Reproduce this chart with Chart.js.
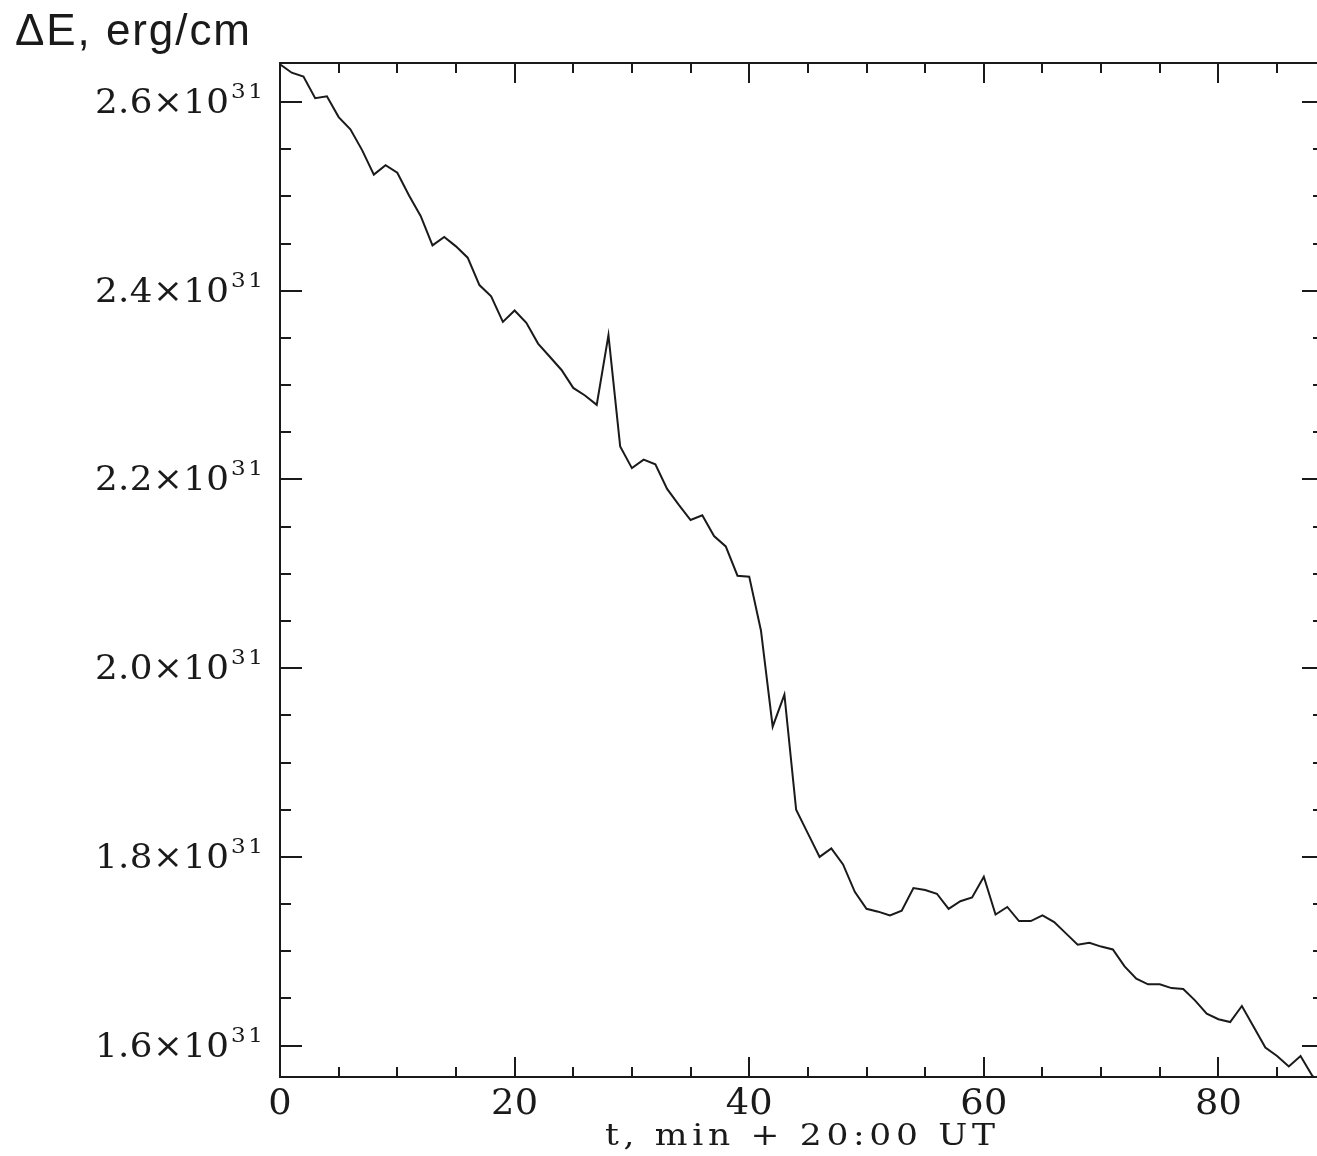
<!DOCTYPE html>
<html>
<head>
<meta charset="utf-8">
<script src="https://cdn.jsdelivr.net/npm/chart.js@4/dist/chart.umd.min.js"></script>
<style>
  html, body { margin: 0; padding: 0; background: #fff; overflow: hidden; }
  #wrap { position: relative; width: 1330px; height: 1156px; }
</style>
</head>
<body>
<div id="wrap"><canvas id="myChart" width="1330" height="1156"></canvas></div>
<script>
// minutes after 20:00 UT
const minutes = [
   0,  1,  2,  3,  4,  5,  6,  7,  8,  9, 10, 11, 12, 13, 14, 15, 16, 17, 18, 19,
  20, 21, 22, 23, 24, 25, 26, 27, 28, 29, 30, 31, 32, 33, 34, 35, 36, 37, 38, 39,
  40, 41, 42, 43, 44, 45, 46, 47, 48, 49, 50, 51, 52, 53, 54, 55, 56, 57, 58, 59,
  60, 61, 62, 63, 64, 65, 66, 67, 68, 69, 70, 71, 72, 73, 74, 75, 76, 77, 78, 79,
  80, 81, 82, 83, 84, 85, 86, 87, 88, 89
];

// ΔE in units of 1e31 erg/cm
const energy = [
  2.640, 2.631, 2.627, 2.604, 2.606, 2.584, 2.571, 2.549, 2.523, 2.533,
  2.525, 2.501, 2.479, 2.448, 2.457, 2.447, 2.435, 2.406, 2.394, 2.367,
  2.379, 2.366, 2.344, 2.330, 2.316, 2.297, 2.289, 2.279, 2.353, 2.235,
  2.212, 2.221, 2.216, 2.190, 2.173, 2.157, 2.162, 2.140, 2.129, 2.098,
  2.097, 2.040, 1.938, 1.972, 1.850, 1.825, 1.800, 1.809, 1.792, 1.763,
  1.745, 1.742, 1.738, 1.743, 1.767, 1.765, 1.761, 1.745, 1.753, 1.757,
  1.779, 1.739, 1.747, 1.732, 1.732, 1.738, 1.731, 1.719, 1.707, 1.709,
  1.705, 1.702, 1.684, 1.671, 1.665, 1.665, 1.661, 1.660, 1.648, 1.634,
  1.628, 1.625, 1.642, 1.620, 1.598, 1.589, 1.578, 1.589, 1.568, 1.560
];

const xTickLabels = [0, 20, 40, 60, 80];
const yTickLabels = ['1.6', '1.8', '2.0', '2.2', '2.4', '2.6'];
const yExponent = '31';
const yTitle = 'ΔE, erg/cm';
const xTitle = 't, min + 20:00 UT';

const INK = '#1a1a1a';
const SERIF = '"DejaVu Serif", "Liberation Serif", serif';

// draw text char by char, stretched by sx and spread to the given width
function fitText(ctx, str, x, y, align, width, sx) {
  const chars = [...str];
  const w = chars.map(c => ctx.measureText(c).width * sx);
  const natural = w.reduce((a, b) => a + b, 0);
  const gap = chars.length > 1 ? (width - natural) / (chars.length - 1) : 0;
  const total = chars.length > 1 ? width : natural;
  let pos = align === 'center' ? x - total / 2 : align === 'right' ? x - total : x;
  ctx.textAlign = 'left';
  chars.forEach((c, i) => {
    ctx.save();
    ctx.translate(pos, y);
    ctx.scale(sx, 1);
    ctx.fillText(c, 0, 0);
    ctx.restore();
    pos += w[i] + gap;
  });
}

const framePlugin = {
  id: 'frame',
  afterDraw(chart) {
    const { ctx, chartArea: a, scales: { x, y } } = chart;
    ctx.save();
    ctx.strokeStyle = INK;
    ctx.fillStyle = INK;
    ctx.lineWidth = 2;
    ctx.lineCap = 'butt';

    // box
    ctx.strokeRect(a.left, a.top, a.right - a.left, a.bottom - a.top);

    // x ticks, inward on bottom and top
    ctx.beginPath();
    for (let t = 0; t <= x.max; t += 5) {
      const px = Math.round(x.getPixelForValue(t));
      const len = t % 20 === 0 ? 20 : 10;
      ctx.moveTo(px, a.bottom); ctx.lineTo(px, a.bottom - len);
      ctx.moveTo(px, a.top); ctx.lineTo(px, a.top + len);
    }
    // y ticks, inward on left and right
    for (let k = 0; k <= 22; k++) {
      const v = 1.55 + k * 0.05;
      if (v < y.min || v > y.max) continue;
      const py = Math.round(y.getPixelForValue(v));
      const len = k % 4 === 1 ? 22 : 11;
      ctx.moveTo(a.left, py); ctx.lineTo(a.left + len, py);
      ctx.moveTo(a.right, py); ctx.lineTo(a.right - len, py);
    }
    ctx.stroke();

    // x tick labels
    ctx.textBaseline = 'alphabetic';
    ctx.font = '35px ' + SERIF;
    xTickLabels.forEach(t => {
      const s = String(t);
      const px = x.getPixelForValue(t);
      fitText(ctx, s, px, a.bottom + 37, 'center', s.length === 1 ? 21 : 47, 1.05);
    });

    // y tick labels with ×10^31
    yTickLabels.forEach(lbl => {
      const py = y.getPixelForValue(parseFloat(lbl));
      ctx.font = '34px ' + SERIF;
      fitText(ctx, lbl + '×10', 229, py + 11, 'right', 134, 1.05);
      ctx.font = '21px ' + SERIF;
      fitText(ctx, yExponent, 231, py - 4, 'left', 32, 1.1);
    });

    // axis title
    ctx.font = '30px ' + SERIF;
    fitText(ctx, xTitle, 800, 1145, 'center', 390, 1.15);

    // y title, top left
    ctx.font = '44px "Liberation Sans", Arial, sans-serif';
    fitText(ctx, yTitle, 15, 45, 'left', 235, 1);

    ctx.restore();
  }
};

const ctx = document.getElementById('myChart').getContext('2d');
new Chart(ctx, {
  type: 'line',
  data: {
    datasets: [{
      label: 'ΔE',
      data: minutes.map((m, i) => ({ x: m, y: energy[i] })),
      borderColor: INK,
      borderWidth: 2,
      pointRadius: 0,
      tension: 0,
      fill: false
    }]
  },
  options: {
    responsive: false,
    animation: false,
    devicePixelRatio: 1,
    layout: { padding: { left: 280, top: 63, right: 6, bottom: 79 } },
    plugins: { legend: { display: false }, tooltip: { enabled: false } },
    scales: {
      x: { type: 'linear', min: 0, max: 89, display: false },
      y: { type: 'linear', min: 1.5668, max: 2.6413, display: false }
    }
  },
  plugins: [framePlugin]
});
</script>
</body>
</html>
